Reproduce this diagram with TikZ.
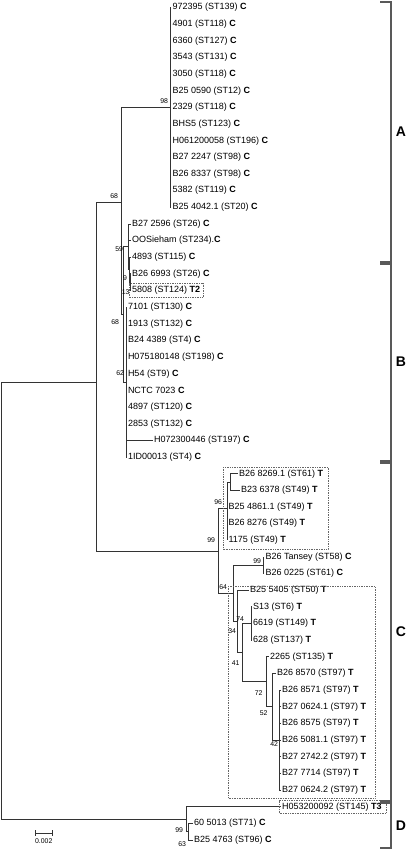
\documentclass[tikz,border=0pt]{standalone}
\usepackage{fontspec}
\setmainfont{Liberation Sans}
\newcommand\myleaf[4]{\node[leaf] (#1) at (#2,{7.5+16.65*#3}) {#4};}
\begin{document}
\begin{tikzpicture}[x=1pt,y=-1pt,
  br/.style={draw=black!80, line width=0.9pt},
  leaf/.style={anchor=west, inner xsep=1.5pt, inner ysep=0pt, outer sep=0pt, font=\fontsize{9}{10}\selectfont},
  bs/.style={anchor=east, inner sep=0pt, outer sep=0pt, font=\fontsize{6.9}{8}\selectfont},
  tbox/.style={draw=black!60, densely dotted, line width=0.7pt},
  clade/.style={font=\fontsize{14}{16}\selectfont\bfseries, inner sep=0pt},
  brk/.style={draw=black!65, line width=1.3pt}]
\useasboundingbox (0,0) rectangle (416,851);

% ---------- leaves ----------
\myleaf{l0}{171}{0}{972395 (ST139) \textbf{C}}
\myleaf{l1}{171}{1}{4901 (ST118) \textbf{C}}
\myleaf{l2}{171}{2}{6360 (ST127) \textbf{C}}
\myleaf{l3}{171}{3}{3543 (ST131) \textbf{C}}
\myleaf{l4}{171}{4}{3050 (ST118) \textbf{C}}
\myleaf{l5}{171}{5}{B25 0590 (ST12) \textbf{C}}
\myleaf{l6}{171}{6}{2329 (ST118) \textbf{C}}
\myleaf{l7}{171}{7}{BHS5 (ST123) \textbf{C}}
\myleaf{l8}{171}{8}{H061200058 (ST196) \textbf{C}}
\myleaf{l9}{171}{9}{B27 2247 (ST98) \textbf{C}}
\myleaf{l10}{171}{10}{B26 8337 (ST98) \textbf{C}}
\myleaf{l11}{171}{11}{5382 (ST119) \textbf{C}}
\myleaf{l12}{171}{12}{B25 4042.1 (ST20) \textbf{C}}
\myleaf{l13}{130.5}{13}{B27 2596 (ST26) \textbf{C}}
\myleaf{l14}{130.5}{14}{OOSieham (ST234).\textbf{C}}
\myleaf{l15}{130.5}{15}{4893 (ST115) \textbf{C}}
\myleaf{l16}{130.5}{16}{B26 6993 (ST26) \textbf{C}}
\myleaf{l17}{130.5}{17}{5808 (ST124) \textbf{T2}}
\myleaf{l18}{126.5}{18}{7101 (ST130) \textbf{C}}
\myleaf{l19}{126.5}{19}{1913 (ST132) \textbf{C}}
\myleaf{l20}{126.5}{20}{B24 4389 (ST4) \textbf{C}}
\myleaf{l21}{126.5}{21}{H075180148 (ST198) \textbf{C}}
\myleaf{l22}{126.5}{22}{H54 (ST9) \textbf{C}}
\myleaf{l23}{126.5}{23}{NCTC 7023 \textbf{C}}
\myleaf{l24}{126.5}{24}{4897 (ST120) \textbf{C}}
\myleaf{l25}{126.5}{25}{2853 (ST132) \textbf{C}}
\myleaf{l26}{152.5}{26}{H072300446 (ST197) \textbf{C}}
\myleaf{l27}{126.5}{27}{1ID00013 (ST4) \textbf{C}}
\myleaf{l28}{237.5}{28}{B26 8269.1 (ST61) \textbf{T}}
\myleaf{l29}{239.5}{29}{B23 6378 (ST49) \textbf{T}}
\myleaf{l30}{227}{30}{B25 4861.1 (ST49) \textbf{T}}
\myleaf{l31}{227}{31}{B26 8276 (ST49) \textbf{T}}
\myleaf{l32}{227}{32}{1175 (ST49) \textbf{T}}
\myleaf{l33}{264}{33}{B26 Tansey (ST58) \textbf{C}}
\myleaf{l34}{264}{34}{B26 0225 (ST61) \textbf{C}}
\myleaf{l35}{248.5}{35}{B25 5405 (ST50) \textbf{T}}
\myleaf{l36}{251.5}{36}{S13 (ST6) \textbf{T}}
\myleaf{l37}{251.5}{37}{6619 (ST149) \textbf{T}}
\myleaf{l38}{251.5}{38}{628 (ST137) \textbf{T}}
\myleaf{l39}{268.5}{39}{2265 (ST135) \textbf{T}}
\myleaf{l40}{275.5}{40}{B26 8570 (ST97) \textbf{T}}
\myleaf{l41}{280.5}{41}{B26 8571 (ST97) \textbf{T}}
\myleaf{l42}{280.5}{42}{B27 0624.1 (ST97) \textbf{T}}
\myleaf{l43}{280.5}{43}{B26 8575 (ST97) \textbf{T}}
\myleaf{l44}{280.5}{44}{B26 5081.1 (ST97) \textbf{T}}
\myleaf{l45}{280.5}{45}{B27 2742.2 (ST97) \textbf{T}}
\myleaf{l46}{280.5}{46}{B27 7714 (ST97) \textbf{T}}
\myleaf{l47}{280.5}{47}{B27 0624.2 (ST97) \textbf{T}}
\myleaf{l48}{280.5}{48}{H053200092 (ST145) \textbf{T3}}
\myleaf{l49}{192.5}{49}{60 5013 (ST71) \textbf{C}}
\myleaf{l50}{192.5}{50}{B25 4763 (ST96) \textbf{C}}

% ---------- internal nodes ----------
\coordinate (root) at (1,600);
\coordinate (nABC) at (96,382);
\coordinate (nAB) at (121,202);
\coordinate (nA) at (170,107.4);
\coordinate (n68b) at (123,314.5);
\coordinate (n59) at (128,246.9);
\coordinate (n9) at (129,269.8);
\coordinate (n13) at (130,282.2);
\coordinate (n62) at (126,382.1);
\coordinate (nC) at (218,551);
\coordinate (n96) at (227,508);
\coordinate (nsub) at (230,482);
\coordinate (n64) at (233,593.4);
\coordinate (nT) at (263,565.3);
\coordinate (n34) at (237,621.5);
\coordinate (n41) at (242,652.7);
\coordinate (n74) at (251,623.6);
\coordinate (n72) at (266,681.9);
\coordinate (n52) at (272,706.8);
\coordinate (n42) at (279,740.1);
\coordinate (nD) at (186,819.2);
\coordinate (n63) at (188,831.7);

% ---------- branches ----------
\draw[br] (root) |- (nABC);
\draw[br] (root) |- (nD);
\draw[br] (nABC) |- (nAB);
\draw[br] (nABC) |- (nC);
\draw[br] (nAB) |- (nA);
\draw[br] (nAB) |- (n68b);
\foreach \i in {0,...,12} \draw[br] (nA) |- (l\i.west);
\draw[br] (n68b) |- (n59);
\draw[br] (n68b) |- (n62);
\draw[br] (n59) |- (l13.west);
\draw[br] (n59) |- (l14.west);
\draw[br] (n59) |- (n9);
\draw[br] (n9) |- (l15.west);
\draw[br] (n9) |- (n13);
\draw[br] (n13) |- (l16.west);
\draw[br] (n13) |- (l17.west);
\foreach \i in {18,...,27} \draw[br] (n62) |- (l\i.west);
\draw[br] (nC) |- (n96);
\draw[br] (nC) |- (n64);
\draw[br] (n96) |- (nsub);
\foreach \i in {30,31,32} \draw[br] (n96) |- (l\i.west);
\draw[br] (nsub) |- (l28.west);
\draw[br] (nsub) |- (l29.west);
\draw[br] (n64) |- (nT);
\draw[br] (n64) |- (n34);
\draw[br] (nT) |- (l33.west);
\draw[br] (nT) |- (l34.west);
\draw[br] (n34) |- (l35.west);
\draw[br] (n34) |- (n41);
\draw[br] (n41) |- (n74);
\draw[br] (n41) |- (n72);
\foreach \i in {36,37,38} \draw[br] (n74) |- (l\i.west);
\draw[br] (n72) |- (l39.west);
\draw[br] (n72) |- (n52);
\draw[br] (n52) |- (l40.west);
\draw[br] (n52) |- (n42);
\foreach \i in {41,...,47} \draw[br] (n42) |- (l\i.west);
\draw[br] (nD) |- (l48.west);
\draw[br] (nD) |- (n63);
\draw[br] (n63) |- (l49.west);
\draw[br] (n63) |- (l50.west);

% ---------- bootstrap values ----------
\node[bs] (b98) at (168,101) {98};
\node[bs] (b68a) at (118,196) {68};
\node[bs] (b59) at (123,249) {59};
\node[bs] (b9) at (127,278) {9};
\node[bs] (b13) at (129.5,292) {13};
\node[bs] (b68b) at (119,322) {68};
\node[bs] (b62) at (124,373) {62};
\node[bs] (b96) at (222,502) {96};
\node[bs] (b99c) at (215,540) {99};
\node[bs] (b99t) at (261,561) {99};
\node[bs] (b64) at (227,587) {64};
\node[bs] (b74) at (244,619) {74};
\node[bs] (b34) at (236,631) {34};
\node[bs] (b41) at (239.5,663) {41};
\node[bs] (b72) at (262.5,693) {72};
\node[bs] (b52) at (267.5,713) {52};
\node[bs] (b42) at (278,744) {42};
\node[bs] (b99d) at (183,830) {99};
\node[bs] (b63) at (186,844) {63};

% ---------- dotted boxes ----------
\draw[tbox] (129,283.5) rectangle (203,297.5);
\draw[tbox] (223,467) rectangle (328,549.5);
\draw[tbox] (228,586) rectangle (375,798);
\draw[tbox] (279,800.5) rectangle (386,813.5);

% ---------- clade brackets ----------
\draw[brk] (380,2) -- (391,2) -- (391,262) -- (380,262);
\draw[brk] (380,264) -- (391,264) -- (391,461) -- (380,461);
\draw[brk] (380,463) -- (391,463) -- (391,801) -- (380,801);
\draw[brk] (380,803) -- (391,803) -- (391,848) -- (380,848);
\node[clade] (cA) at (401,132) {A};
\node[clade] (cB) at (401,362) {B};
\node[clade] (cC) at (401,632) {C};
\node[clade] (cD) at (401,826) {D};

% ---------- scale bar ----------
\draw[br, line width=0.8pt] (35,833) -- (52.5,833);
\draw[br, line width=0.8pt] (35,830) -- (35,836);
\draw[br, line width=0.8pt] (52.5,830) -- (52.5,836);
\node[inner sep=0pt, font=\fontsize{6.9}{8}\selectfont] (sbar) at (43.75,841.5) {0.002};
\end{tikzpicture}
\end{document}
